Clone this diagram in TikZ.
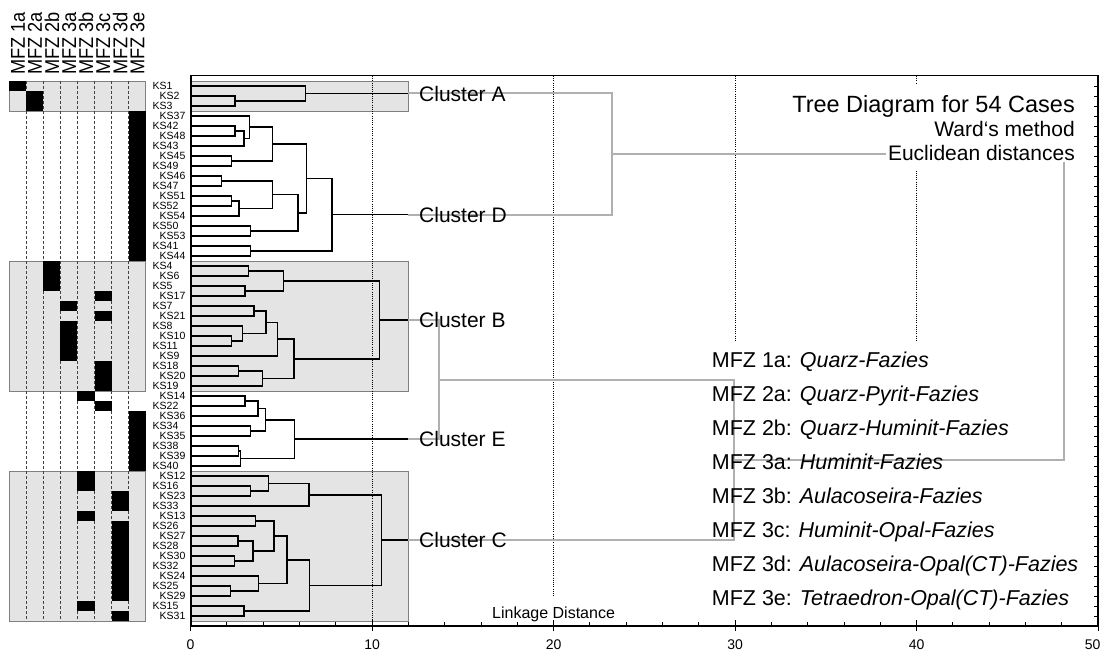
\documentclass[tikz,border=0pt]{standalone}
\usepackage{fontspec}
\setmainfont{Liberation Sans}
\newfontfamily\hdrfont[FakeStretch=0.91]{Liberation Sans}
\usetikzlibrary{calc}
\definecolor{boxfill}{HTML}{E4E4E4}
\definecolor{boxdraw}{HTML}{808080}
\definecolor{connc}{HTML}{B0B0B0}
\definecolor{sepc}{HTML}{404040}
\newcommand\dmerge[5][dend]{%
  \coordinate (tmpx) at (#5,0);
  \coordinate (tmpm) at ($(#3)!0.5!(#4)$);
  \coordinate (#2) at (tmpm -| tmpx);
  \draw[#1] (#3) -- (#3 -| #2) -- (#4 -| #2) -- (#4);
}
\begin{document}
\begin{tikzpicture}[x=1pt,y=-1pt,
  dend/.style={line width=1.5pt,black},
  connl/.style={line width=2pt,draw=connc},
  gridl/.style={line width=0.9pt,dash pattern=on 1pt off 1.2pt},
  graybox/.style={fill=boxfill,draw=boxdraw,line width=0.8pt},
  sepl/.style={draw=sepc,line width=0.7pt,dash pattern=on 3pt off 2pt},
  ks/.style={font=\fontsize{10.5}{10.5}\selectfont,inner sep=0pt,anchor=west},
  hdr/.style={font=\hdrfont\fontsize{20}{20}\selectfont,inner sep=0pt,rotate=90,anchor=base west},
  clab/.style={font=\fontsize{21}{21}\selectfont,inner sep=0pt,anchor=west},
  leg/.style={font=\fontsize{21.5}{21.5}\selectfont,inner sep=0pt,anchor=base west},
  ttl/.style={inner sep=0pt,anchor=base east},
  ticklab/.style={font=\fontsize{14}{14}\selectfont,inner sep=0pt}
]
\useasboundingbox (0,0) rectangle (1101,655);

% ---------- matrix ----------
\foreach \r/\s in {0/2,18/30,39/53}
  \draw[graybox] (9.2,{81+10*\r}) rectangle (145.7,{91+10*\s});
\foreach \k in {1,...,7}
  \draw[sepl] ({9.2+17.06*\k},81) -- ({9.2+17.06*\k},621);
\foreach \c/\a/\b in {1/0/0,2/1/2,8/3/17,3/18/20,6/21/21,6/23/23,6/28/30,6/32/32,
  4/22/22,4/24/27,5/31/31,5/39/40,5/43/43,5/52/52,8/33/38,7/41/42,7/44/51,7/53/53}
  \fill ({9.2+17.06*(\c-1)},{81+10*\a}) rectangle ({9.2+17.06*\c},{91+10*\b});
\foreach \k/\t in {1/1a,2/2a,3/2b,4/3a,5/3b,6/3c,7/3d,8/3e}
  \node[hdr] (h\k) at ({9.2+17.06*(\k-0.5)+7.2},75) {MFZ \t};

% ---------- case labels ----------
\foreach \n [count=\i from 0] in {KS1,KS2,KS3,KS37,KS42,KS48,KS43,KS45,KS49,KS46,KS47,KS51,KS52,KS54,KS50,KS53,KS41,KS44,KS4,KS6,KS5,KS17,KS7,KS21,KS8,KS10,KS11,KS9,KS18,KS20,KS19,KS14,KS22,KS36,KS34,KS35,KS38,KS39,KS40,KS12,KS16,KS23,KS33,KS13,KS26,KS27,KS28,KS30,KS32,KS24,KS25,KS29,KS15,KS31}{
  \pgfmathsetmacro\xx{152.5+7*mod(\i,2)}
  \node[ks] (k\i) at (\xx,{86+10*\i}) {\n};
}

% ---------- dendrogram ----------
\begin{scope}[shift={(190.6,0)},x=18.15pt]
  \foreach \r/\s in {0/2,18/30,39/53}
    \draw[graybox] (0,{81+10*\r}) rectangle (12,{91+10*\s});
  % grid
  \draw[gridl] (10,76) -- (10,626);
  \draw[gridl] (20,76) -- (20,597);
  \draw[gridl] (30,76) -- (30,342);
  \draw[gridl] (40,76) -- (40,342);
  % white text areas
  \fill[white] ({(786-190.6)/18.15},85) rectangle ({(1080-190.6)/18.15},171);
  \fill[white] ({(705-190.6)/18.15},342) rectangle ({(1090-190.6)/18.15},612);

  \foreach \i in {0,...,53} \coordinate (L\i) at (0,{86+10*\i});
  % cluster A
  \dmerge{a1}{L1}{L2}{2.45}
  \dmerge{A}{L0}{a1}{6.34}
  % cluster D
  \dmerge{d1}{L4}{L5}{2.45}
  \dmerge{d2}{d1}{L6}{2.94}
  \dmerge{d3}{L3}{d2}{3.24}
  \dmerge{d4}{L7}{L8}{2.26}
  \dmerge{d5}{d3}{d4}{4.5}
  \dmerge{d6}{L9}{L10}{1.71}
  \dmerge{d7}{L11}{L12}{2.26}
  \dmerge{d8}{d7}{L13}{2.67}
  \dmerge{d9}{d6}{d8}{4.52}
  \dmerge{d10}{L14}{L15}{3.31}
  \dmerge{d11}{d9}{d10}{5.92}
  \dmerge{d12}{d5}{d11}{6.39}
  \dmerge{d13}{L16}{L17}{3.31}
  \dmerge{D}{d12}{d13}{7.79}
  % cluster B
  \dmerge{b1}{L18}{L19}{3.18}
  \dmerge{b2}{L20}{L21}{3.0}
  \dmerge{b3}{b1}{b2}{5.11}
  \dmerge{b4}{L22}{L23}{3.49}
  \dmerge{b5}{L25}{L26}{2.26}
  \dmerge{b6}{L24}{b5}{2.87}
  \dmerge{b7}{b4}{b6}{4.15}
  \dmerge{b8}{b7}{L27}{4.78}
  \dmerge{b9}{L28}{L29}{2.63}
  \dmerge{b10}{b9}{L30}{3.97}
  \dmerge{b11}{b8}{b10}{5.7}
  \dmerge{B}{b3}{b11}{10.4}
  % cluster E
  \dmerge{e1}{L31}{L32}{3.0}
  \dmerge{e2}{e1}{L33}{3.7}
  \dmerge{e3}{L34}{L35}{3.31}
  \dmerge{e4}{e2}{e3}{4.12}
  \dmerge{e5}{L36}{L37}{2.63}
  \dmerge{e6}{e5}{L38}{2.76}
  \dmerge{E}{e4}{e6}{5.73}
  % cluster C
  \dmerge{c1}{L40}{L41}{3.31}
  \dmerge{c2}{L39}{c1}{4.28}
  \dmerge{c3}{c2}{L42}{6.52}
  \dmerge{c4}{L43}{L44}{3.58}
  \dmerge{c5}{L45}{L46}{2.61}
  \dmerge{c6}{L47}{L48}{2.43}
  \dmerge{c7}{c5}{c6}{3.44}
  \dmerge{c8}{c4}{c7}{4.6}
  \dmerge{c9}{L50}{L51}{2.2}
  \dmerge{c10}{L49}{c9}{3.75}
  \dmerge{c11}{c8}{c10}{5.31}
  \dmerge{c12}{L52}{L53}{2.94}
  \dmerge{c13}{c11}{c12}{6.56}
  \dmerge{C}{c3}{c13}{10.53}

  \coordinate (x12) at (12,0);
  \foreach \c in {A,B,C,D,E}{
    \coordinate (\c end) at (\c -| x12);
    \draw[dend] (\c) -- (\c end);
  }
  % grey connections
  \dmerge[connl]{AD}{Aend}{Dend}{23.2}
  \dmerge[connl]{BE}{Bend}{Eend}{13.7}
  \dmerge[connl]{BEC}{BE}{Cend}{29.95}
  \coordinate (rootx) at (48.1,0);
  \coordinate (gapx) at ({(886-190.6)/18.15},0);
  \coordinate (gapy) at (0,162);
  \draw[connl] (AD) -- (AD -| gapx);
  \draw[connl] (gapy -| rootx) -- (BEC -| rootx) -- (BEC);

  % cluster labels
  \foreach \c in {A,B,C,D,E}
    \node[clab] (lab\c) at ([xshift=10.6pt]\c end) {Cluster \c};

  % axis ticks
  \foreach \t in {2,4,6,8,12,14,16,18,22,24,26,28,32,34,36,38,42,44,46,48}
    \draw[line width=0.9pt] (\t,622) -- (\t,627);
  \foreach \t in {0,10,20,30,40,50}
    \draw[line width=0.9pt] (\t,620) -- (\t,631);
  \foreach \t in {0,10,20,30,40}
    \node[ticklab] (t\t) at (\t,645) {\t};
  \node[ticklab,anchor=east] (t50) at ([xshift=2.5pt]50,645) {50};
  \node[font=\fontsize{16}{16}\selectfont,inner sep=0pt] (ld) at (20,614) {Linkage Distance};
\end{scope}

% ---------- title ----------
\node[ttl,font=\fontsize{23.5}{23.5}\selectfont] (t1) at (1075,112.5) {Tree Diagram for 54 Cases};
\node[ttl,font=\fontsize{21}{21}\selectfont] (t2) at (1075,136.8) {Ward{\char96}s method};
\node[ttl,font=\fontsize{21}{21}\selectfont] (t3) at (1075,161) {Euclidean distances};

% ---------- legend ----------
\foreach \t/\n [count=\j from 0] in {1a/Quarz-Fazies,2a/Quarz-Pyrit-Fazies,2b/Quarz-Huminit-Fazies,3a/Huminit-Fazies,3b/Aulacoseira-Fazies,3c/Huminit-Opal-Fazies,3d/Aulacoseira-Opal(CT)-Fazies,3e/Tetraedron-Opal(CT)-Fazies}
  \node[leg] (m\j) at (711.7,{367+34*\j}) {MFZ \t: \textit{\n}};

% ---------- frame ----------
\draw[line width=1.8pt] (190.6,626) -- (190.6,75.5) -- (1098,75.5) -- (1098,626) -- cycle;
\foreach \i in {0,...,53}
  \draw[line width=0.9pt] (1098,{86+10*\i}) -- (1094,{86+10*\i});
\end{tikzpicture}
\end{document}
